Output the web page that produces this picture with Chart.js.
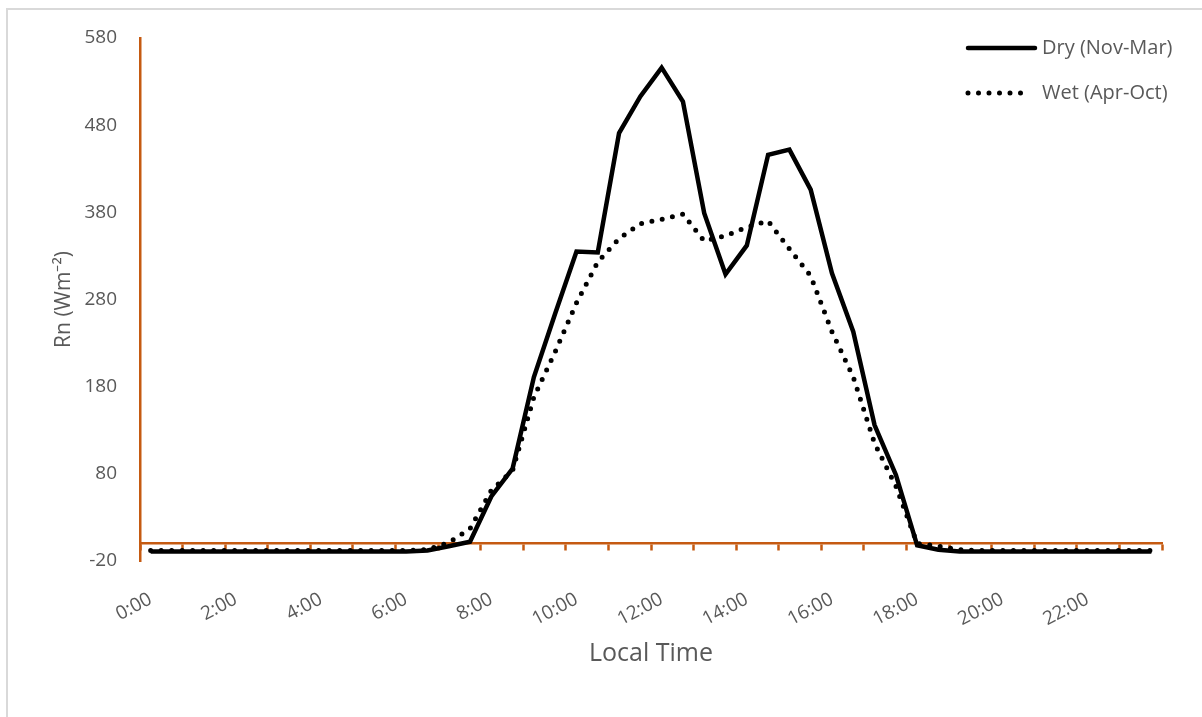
<!DOCTYPE html>
<html lang="en">
<head>
	<meta charset="UTF-8">
	<title>Rn diurnal cycle</title>
	<script src="https://cdn.jsdelivr.net/npm/chart.js@4.4.1/dist/chart.umd.min.js"></script>
	<style>
		body { margin: 0; background: #fff; overflow: hidden; }
		#wrap { position: relative; width: 1202px; height: 717px; }
		#frame { position: absolute; left: 6px; top: 8px; width: 1220px; height: 740px;
			border-left: 2px solid #d9d9d9; border-top: 2px solid #d9d9d9; }
		canvas { position: absolute; left: 0; top: 0; }
	</style>
</head>
<body>
<div id="wrap">
	<div id="frame"></div>
	<canvas id="myChart" width="1202" height="717"></canvas>
</div>

<script>
	// half-hourly local time
	let times = ['0:00','0:30','1:00','1:30','2:00','2:30','3:00','3:30','4:00','4:30','5:00','5:30',
		'6:00','6:30','7:00','7:30','8:00','8:30','9:00','9:30','10:00','10:30','11:00','11:30',
		'12:00','12:30','13:00','13:30','14:00','14:30','15:00','15:30','16:00','16:30','17:00','17:30',
		'18:00','18:30','19:00','19:30','20:00','20:30','21:00','21:30','22:00','22:30','23:00','23:30']

	let dry = [-9,-9,-9,-9,-9,-9,-9,-9,-9,-9,-9,-9,-9,-8,-3,2,54,86,191,264,335,334,471,513,
		546,507,379,309,342,446,452,406,310,243,136,79,-2,-7,-9,-9,-9,-9,-9,-9,-9,-9,-9,-9]
	let wet = [-8,-8,-8,-8,-8,-8,-8,-8,-8,-8,-8,-8,-8,-7,1,17,61,84,168,220,276,323,350,367,
		372,378,347,353,363,370,338,307,243,191,115,66,0,-3,-7,-8,-8,-8,-8,-8,-8,-8,-8,-8]

	let yTicks = { min: -20, max: 580, step: 100 }
	let seriesNames = ['Dry (Nov-Mar)', 'Wet (Apr-Oct)']

	const orange = '#c55a11'
	const grey = '#595959'
	Chart.defaults.font.family = '"Open Sans", sans-serif'
	Chart.defaults.color = grey

	// legend sits inside the plot, top right, stacked
	const boxLegend = {
		id: 'boxLegend',
		afterDraw(chart) {
			const ctx = chart.ctx
			const rows = [48, 93]
			chart.data.datasets.forEach((ds, i) => {
				let y = rows[i]
				ctx.save()
				ctx.strokeStyle = ds.borderColor
				ctx.lineWidth = ds.borderWidth
				ctx.lineCap = 'round'
				ctx.setLineDash(ds.borderDash || [])
				ctx.beginPath()
				ctx.moveTo(968, y)
				ctx.lineTo(ds.borderDash ? 1030 : 1035, y)
				ctx.stroke()
				ctx.setLineDash([])
				ctx.fillStyle = grey
				ctx.font = '20px "Open Sans"'
				ctx.textBaseline = 'middle'
				ctx.fillText(ds.label, 1042, y)
				ctx.restore()
			})
		}
	}

	var ctx = document.getElementById('myChart').getContext('2d')
	var chart = new Chart(ctx, {
		type: 'line',
		data: {
			labels: times,
			datasets: [{
				label: seriesNames[0],
				data: dry,
				borderColor: '#000',
				borderWidth: 4.5,
				pointRadius: 0,
				tension: 0
			}, {
				label: seriesNames[1],
				data: wet,
				borderColor: '#000',
				borderWidth: 5,
				borderDash: [0, 10.5],
				borderCapStyle: 'round',
				pointRadius: 0,
				tension: 0
			}]
		},
		options: {
			responsive: false,
			devicePixelRatio: 1,
			animation: false,
			layout: { padding: { left: 0, top: 38, right: 40, bottom: 0 } },
			plugins: {
				legend: { display: false },
				tooltip: { enabled: false }
			},
			scales: {
				x: {
					type: 'category',
					offset: true,
					grid: { display: false, drawTicks: false },
					border: { display: false },
					ticks: {
						autoSkip: false,
						minRotation: 28,
						maxRotation: 28,
						padding: 27,
						color: grey,
						font: { size: 19 },
						callback: (v, i) => i % 4 === 0 ? times[i] : ''
					},
					title: {
						display: true,
						text: 'Local Time',
						color: grey,
						font: { size: 25 },
						padding: { top: 0, bottom: 48 }
					},
					afterFit: s => { s.height = 156 }
				},
				x0: {
					type: 'category',
					axis: 'x',
					offset: true,
					position: { y: 0 },
					ticks: { display: false },
					grid: {
						offset: true,
						drawOnChartArea: false,
						drawTicks: true,
						tickLength: 6,
						tickWidth: 2.5,
						tickColor: c => (c.index === undefined || c.index % 2 === 0) ? orange : 'rgba(0,0,0,0)'
					},
					border: { color: orange, width: 2.5 }
				},
				y: {
					min: yTicks.min,
					max: yTicks.max,
					ticks: { stepSize: yTicks.step, padding: 23, color: grey, font: { size: 19 } },
					grid: { drawOnChartArea: false, drawTicks: false },
					border: { color: orange, width: 2.5 },
					title: {
						display: true,
						text: 'Rn (Wm⁻²)',
						color: grey,
						font: { size: 21 },
						padding: { top: 51, bottom: 0 }
					},
					afterFit: s => { s.width = 140 }
				}
			}
		},
		plugins: [boxLegend]
	})
</script>
</body>
</html>
